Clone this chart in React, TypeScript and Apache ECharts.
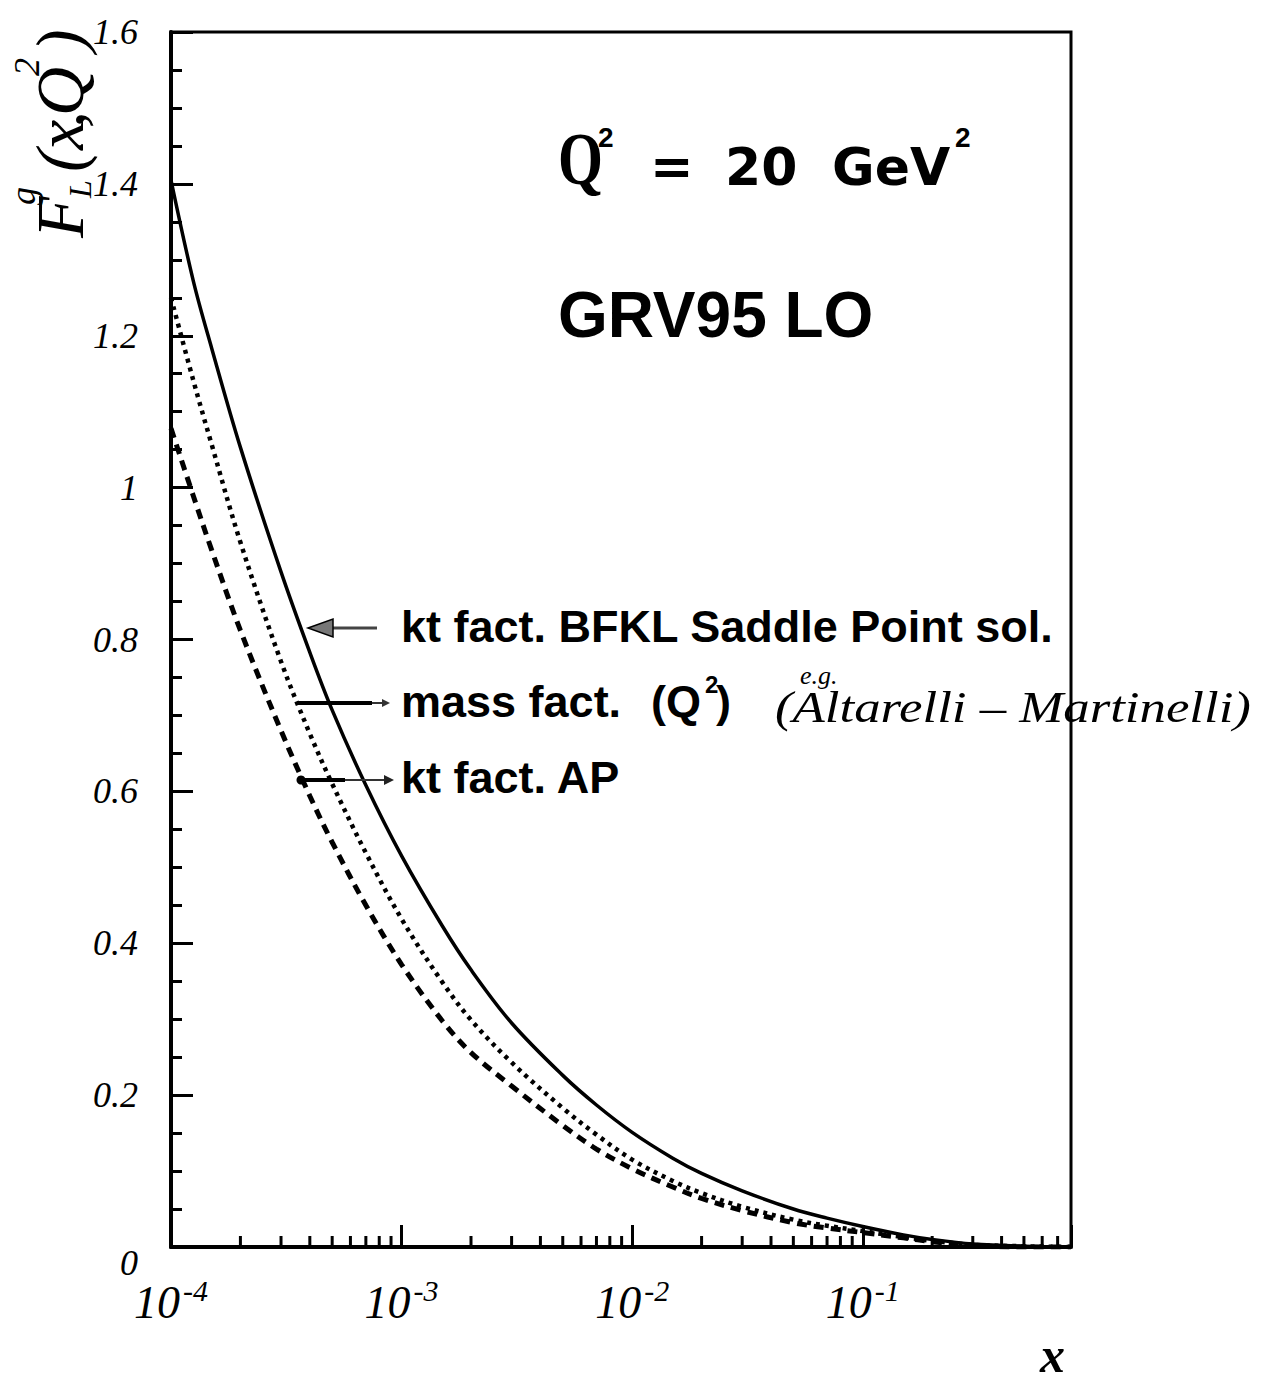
import React, { useEffect, useRef } from "react";
import * as echarts from "echarts";

// x values (log scale)
const xValues = [1e-4, 1.25e-4, 1.5e-4, 2e-4, 3e-4, 4e-4, 5e-4, 7e-4, 1e-3, 1.5e-3, 2e-3, 3e-3, 5e-3, 7e-3, 1e-2, 1.5e-2, 2e-2, 3e-2, 5e-2, 7e-2, 0.1, 0.15, 0.2, 0.3, 0.5, 0.8];
// kt fact. BFKL Saddle Point sol. (solid)
const bfklValues = [1.405, 1.272, 1.184, 1.053, 0.889, 0.783, 0.707, 0.608, 0.515, 0.423, 0.365, 0.295, 0.226, 0.187, 0.151, 0.117, 0.097, 0.074, 0.050, 0.038, 0.027, 0.016, 0.010, 0.004, 0.001, 0.0];
// mass fact. (Q^2) (dotted)
const massValues = [1.250, 1.141, 1.057, 0.928, 0.771, 0.676, 0.610, 0.519, 0.432, 0.349, 0.299, 0.243, 0.183, 0.148, 0.115, 0.087, 0.071, 0.053, 0.036, 0.028, 0.021, 0.013, 0.008, 0.003, 0.001, 0.0];
// kt fact. AP (dashed)
const apValues = [1.078, 0.989, 0.918, 0.812, 0.680, 0.594, 0.533, 0.450, 0.372, 0.298, 0.256, 0.212, 0.160, 0.129, 0.103, 0.079, 0.064, 0.048, 0.032, 0.025, 0.019, 0.012, 0.007, 0.002, 0.0, 0.0];

// minor tick positions on the x axis
const xMinorTicks = [
  2e-4, 3e-4, 4e-4, 5e-4, 6e-4, 7e-4, 8e-4, 9e-4,
  2e-3, 3e-3, 4e-3, 5e-3, 6e-3, 7e-3, 8e-3, 9e-3,
  2e-2, 3e-2, 4e-2, 5e-2, 6e-2, 7e-2, 8e-2, 9e-2,
  0.2, 0.3, 0.4, 0.5, 0.6, 0.7,
];

const SERIF = '"Liberation Serif", "DejaVu Serif", serif';
const SANS = '"Liberation Sans", Arial, sans-serif';
const DSANS = '"DejaVu Sans", sans-serif';

function txt(text: string, x: number, baseline: number, fs: number, extra: any = {}) {
  const { family = SANS, style = "normal", weight = "normal", scaleX = 1, central = 0.35 } = extra;
  return {
    type: "text",
    x,
    y: baseline - central * fs,
    scaleX,
    z: 50,
    style: {
      x: 0,
      y: 0,
      text,
      fontSize: fs,
      fontFamily: family,
      fontStyle: style,
      fontWeight: weight,
      fill: "#000",
      align: "left",
      verticalAlign: "middle",
    },
  };
}

function localTxt(text: string, u: number, vBase: number, fs: number) {
  return {
    type: "text",
    x: u,
    y: vBase - 0.34 * fs,
    style: {
      text,
      fontSize: fs,
      fontFamily: SERIF,
      fontStyle: "italic",
      fill: "#000",
      align: "left",
      verticalAlign: "middle",
    },
  };
}

export default function App() {
  const ref = useRef<HTMLDivElement>(null);
  useEffect(() => {
    if (!ref.current) return;
    const chart = echarts.init(ref.current, undefined, { renderer: "svg" });
    const pair = (vals: number[]) => xValues.map((x, i) => [x, vals[i]]);

    const title = {
      type: "group",
      x: 83,
      y: 238,
      rotation: Math.PI / 2,
      z: 50,
      children: [
        localTxt("F", 0, 0, 68),
        localTxt("g", 33, -48, 36),
        localTxt("L", 40, 8, 32),
        localTxt("(", 66, 0, 68),
        localTxt("x", 88, 0, 68),
        localTxt(",", 110, 0, 68),
        localTxt("Q", 122, 0, 68),
        localTxt("2", 162, -44, 36),
        localTxt(")", 186, 0, 68),
      ],
    };

    const graphics: any[] = [
      title,
      // Q^2 = 20 GeV^2
      txt("Q", 558, 184, 74, { family: SERIF, weight: "bold", scaleX: 0.78, central: 0.34 }),
      txt("2", 598, 147, 28, { family: SANS, weight: "bold" }),
      { type: "text", x: 650, y: 166, z: 50, style: { text: "=", fontSize: 52, fontFamily: DSANS, fontWeight: "bold", fill: "#000", align: "left", verticalAlign: "middle" } },
      txt("20", 725, 185, 52, { family: DSANS, weight: "bold" }),
      txt("GeV", 832, 185, 52, { family: DSANS, weight: "bold" }),
      txt("2", 955, 147, 28, { family: SANS, weight: "bold" }),
      // GRV95 LO
      txt("GRV95 LO", 558, 337, 64, { family: SANS, weight: "bold" }),
      // curve labels
      txt("kt fact. BFKL Saddle Point sol.", 401, 642, 45, { family: SANS, weight: "bold" }),
      txt("mass fact.", 401, 717, 45, { family: SANS, weight: "bold" }),
      txt("(Q", 651, 717, 45, { family: SANS, weight: "bold" }),
      txt("2", 705, 693, 24, { family: SANS, weight: "bold" }),
      txt(")", 716, 717, 45, { family: SANS, weight: "bold" }),
      txt("kt fact. AP", 401, 793, 45, { family: SANS, weight: "bold" }),
      // handwritten note
      txt("e.g.", 800, 684, 26, { family: SERIF, style: "italic", central: 0.34 }),
      txt("(Altarelli \u2013 Martinelli)", 775, 722, 44, { family: SERIF, style: "italic", scaleX: 1.2, central: 0.34 }),
      // axis name x
      txt("x", 1040, 1372, 50, { family: SERIF, style: "italic", weight: "bold", central: 0.34 }),
      // arrow 1 (BFKL)
      { type: "line", z: 50, shape: { x1: 331, y1: 628, x2: 377, y2: 628 }, style: { stroke: "#444", lineWidth: 3 } },
      { type: "polygon", z: 51, shape: { points: [[308, 628], [333, 619], [333, 637]] }, style: { fill: "#777", stroke: "#000", lineWidth: 1.5 } },
      // arrow 2 (mass fact)
      { type: "line", z: 50, shape: { x1: 297, y1: 703, x2: 372, y2: 703 }, style: { stroke: "#000", lineWidth: 4 } },
      { type: "line", z: 50, shape: { x1: 372, y1: 703, x2: 384, y2: 703 }, style: { stroke: "#333", lineWidth: 2 } },
      { type: "polygon", z: 50, shape: { points: [[390, 703], [382, 699], [382, 707]] }, style: { fill: "#333" } },
      // arrow 3 (kt fact AP)
      { type: "circle", z: 50, shape: { cx: 301, cy: 780, r: 4.5 }, style: { fill: "#000" } },
      { type: "line", z: 50, shape: { x1: 301, y1: 780, x2: 345, y2: 780 }, style: { stroke: "#000", lineWidth: 4 } },
      { type: "line", z: 50, shape: { x1: 345, y1: 780, x2: 385, y2: 780 }, style: { stroke: "#333", lineWidth: 2 } },
      { type: "polygon", z: 50, shape: { points: [[394, 780], [384, 775], [384, 785]] }, style: { fill: "#222" } },
    ];

    const lineCommon = { type: "line", symbol: "none", smooth: 0.35, z: 3 };

    const option: any = {
      animation: false,
      backgroundColor: "#fff",
      grid: {
        left: 171,
        right: 192,
        top: 32,
        bottom: 136,
        show: true,
        borderColor: "#000",
        borderWidth: 3,
        backgroundColor: "transparent",
      },
      xAxis: {
        type: "log",
        logBase: 10,
        min: 1e-4,
        max: 0.8,
        axisLine: { show: true, onZero: false, lineStyle: { color: "#000", width: 4 } },
        axisTick: { show: true, inside: true, length: 22, lineStyle: { color: "#000", width: 3 } },
        splitLine: { show: false },
        minorTick: { show: false },
        axisLabel: {
          margin: 28,
          showMinLabel: true,
          showMaxLabel: true,
          formatter: (v: number) => {
            const e = Math.log10(v);
            if (Math.abs(e - Math.round(e)) < 1e-6) return `{b|10}{s|${Math.round(e)}}`;
            return "";
          },
          rich: {
            b: { fontFamily: SERIF, fontStyle: "italic", fontSize: 46, lineHeight: 50, verticalAlign: "bottom", color: "#000" },
            s: { fontFamily: SERIF, fontStyle: "italic", fontSize: 30, lineHeight: 30, padding: [0, 0, 34, 3], verticalAlign: "top", color: "#000" },
          },
        },
      },
      yAxis: {
        type: "value",
        min: 0,
        max: 1.6,
        interval: 0.2,
        axisLine: { show: true, onZero: false, lineStyle: { color: "#000", width: 4 } },
        axisTick: { show: true, inside: true, length: 22, lineStyle: { color: "#000", width: 3 } },
        minorTick: { show: true, splitNumber: 4, length: 11, lineStyle: { color: "#000", width: 3 } },
        splitLine: { show: false },
        axisLabel: {
          margin: 33,
          fontFamily: SERIF,
          fontStyle: "italic",
          fontSize: 36,
          color: "#000",
          formatter: (v: number) => (v === 0 ? "{z|0}" : String(Math.round(v * 10) / 10)),
          rich: {
            z: { fontFamily: SERIF, fontStyle: "italic", fontSize: 36, color: "#000", padding: [32, 0, 0, 0] },
          },
        },
      },
      series: [
        {
          ...lineCommon,
          name: "kt fact. BFKL Saddle Point sol.",
          data: pair(bfklValues),
          lineStyle: { color: "#000", width: 3.5 },
        },
        {
          ...lineCommon,
          name: "mass fact. (Q2)",
          data: pair(massValues),
          lineStyle: { color: "#000", width: 4.5, type: [4, 5], cap: "butt" },
        },
        {
          ...lineCommon,
          name: "kt fact. AP",
          data: pair(apValues),
          lineStyle: { color: "#000", width: 5, type: [10, 7] },
        },
        {
          type: "custom",
          silent: true,
          clip: false,
          z: 4,
          data: xMinorTicks.map((v) => [v, 0]),
          encode: { x: 0, y: 1 },
          renderItem: (params: any, api: any) => {
            const p = api.coord([api.value(0), 0]);
            return {
              type: "line",
              shape: { x1: p[0], y1: p[1], x2: p[0], y2: p[1] - 11 },
              style: { stroke: "#000", lineWidth: 3 },
            };
          },
        },
      ],
      graphic: graphics,
    };

    chart.setOption(option);
    return () => chart.dispose();
  }, []);

  return (
    <div
      ref={ref}
      style={{ position: "absolute", left: 0, top: 0, width: 1263, height: 1383, background: "#fff" }}
    />
  );
}
